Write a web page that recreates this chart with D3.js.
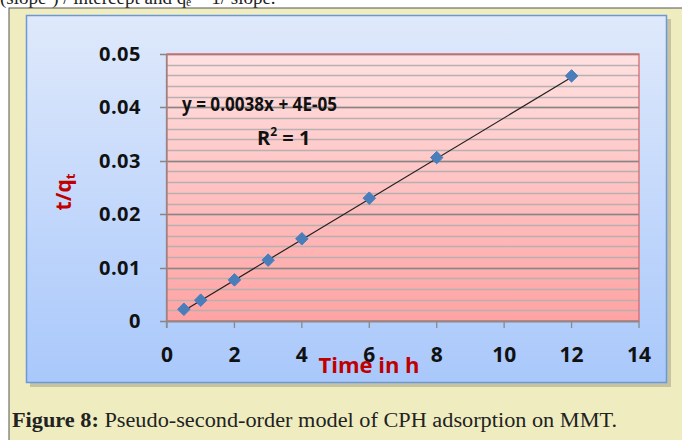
<!DOCTYPE html>
<meta charset="utf-8">
<style>
body { margin: 0; background: #fff; }
svg text { font-family: "Open Sans", "DejaVu Sans", sans-serif; }
</style>
<svg width="682" height="440"></svg>
<script src="https://d3js.org/d3.v7.min.js"></script>
<script>

// data
var hours = [0.5, 1, 2, 3, 4, 6, 8, 12];
var tq = [0.0022, 0.0039, 0.0077, 0.0114, 0.0154, 0.023, 0.0306, 0.0459];
var slope = 0.0038, intercept = 0.00004;
var xTicks = [0, 2, 4, 6, 8, 10, 12, 14];
var yTicks = [0, 0.01, 0.02, 0.03, 0.04, 0.05];
var yMinor = d3.range(0, 0.0501, 0.002);

var svg = d3.select("svg");
var defs = svg.append("defs");

var g1 = defs.append("linearGradient").attr("id", "chartbg").attr("x1", 0).attr("y1", 0).attr("x2", 0).attr("y2", 1);
g1.append("stop").attr("offset", "0%").attr("stop-color", "#dfe9fb");
g1.append("stop").attr("offset", "100%").attr("stop-color", "#a9c8fb");

var g2 = defs.append("linearGradient").attr("id", "plotbg").attr("x1", 0).attr("y1", 0).attr("x2", 0).attr("y2", 1);
g2.append("stop").attr("offset", "0%").attr("stop-color", "#ffe1e1");
g2.append("stop").attr("offset", "100%").attr("stop-color", "#ffa3a3");

// page text cut off at the top
svg.append("text")
    .attr("x", 0).attr("y", 4)
    .style("font-family", "'Liberation Serif', serif")
    .style("font-size", "19px")
    .attr("fill", "#222")
    .text("(slope²) / intercept and qₑ = 1/ slope.");

// beige figure panel
svg.append("rect")
    .attr("x", 9).attr("y", 8).attr("width", 700).attr("height", 440)
    .attr("fill", "#efedc0").attr("stroke", "#555").attr("stroke-width", 1);

// chart area with shadow
svg.append("rect")
    .attr("x", 30).attr("y", 19).attr("width", 641).attr("height", 368)
    .attr("fill", "#a9a78a").attr("opacity", 0.6);
svg.append("rect")
    .attr("x", 26.5).attr("y", 15.5).attr("width", 640).attr("height", 367)
    .attr("fill", "url(#chartbg)").attr("stroke", "#6b98d6").attr("stroke-width", 1.5);

var x = d3.scaleLinear().domain([0, 14]).range([167, 639]);
var y = d3.scaleLinear().domain([0, 0.05]).range([321, 54]);

svg.append("rect")
    .attr("x", x(0)).attr("y", y(0.05))
    .attr("width", x(14) - x(0)).attr("height", y(0) - y(0.05))
    .attr("fill", "url(#plotbg)");

// gridlines
svg.append("g").selectAll("line")
    .data(yMinor)
    .join("line")
    .attr("x1", x(0)).attr("x2", x(14))
    .attr("y1", d => Math.round(y(d)) + 0.5).attr("y2", d => Math.round(y(d)) + 0.5)
    .attr("stroke", "#b8b0b0").attr("stroke-width", 1.5);
svg.append("g").selectAll("line")
    .data(yTicks)
    .join("line")
    .attr("x1", x(0) - 7).attr("x2", x(14))
    .attr("y1", d => Math.round(y(d)) + 0.5).attr("y2", d => Math.round(y(d)) + 0.5)
    .attr("stroke", "#8a8585").attr("stroke-width", 1.3);

svg.append("rect")
    .attr("x", x(0)).attr("y", y(0.05))
    .attr("width", x(14) - x(0)).attr("height", y(0) - y(0.05))
    .attr("fill", "none").attr("stroke", "#d86a6a").attr("stroke-width", 1.3);

// axes
svg.append("line")
    .attr("x1", x(0) - 0.5).attr("x2", x(0) - 0.5).attr("y1", y(0.05)).attr("y2", y(0) + 7)
    .attr("stroke", "#8a8a8a").attr("stroke-width", 1.3);
svg.append("line")
    .attr("x1", x(0)).attr("x2", x(14)).attr("y1", y(0) + 0.5).attr("y2", y(0) + 0.5)
    .attr("stroke", "#8a8a8a").attr("stroke-width", 1.3);
svg.append("g").selectAll("line")
    .data(xTicks)
    .join("line")
    .attr("x1", d => x(d)).attr("x2", d => x(d))
    .attr("y1", y(0)).attr("y2", y(0) + 7)
    .attr("stroke", "#8a8a8a").attr("stroke-width", 1.3);

svg.append("g").selectAll("text")
    .data(yTicks)
    .join("text")
    .attr("x", 141).attr("y", d => y(d) + 7)
    .attr("text-anchor", "end")
    .style("font-size", "20px").style("font-weight", "bold")
    .style("letter-spacing", "0.5px")
    .attr("fill", "#111")
    .text(d => d === 0 ? "0" : d3.format(".2f")(d));

svg.append("g").selectAll("text")
    .data(xTicks)
    .join("text")
    .attr("x", d => x(d)).attr("y", 362)
    .attr("text-anchor", "middle")
    .style("font-size", "21px").style("font-weight", "bold")
    .attr("fill", "#111")
    .text(d => d);

// axis titles
var yt = svg.append("text")
    .attr("transform", "translate(71,192) rotate(-90)")
    .attr("text-anchor", "middle")
    .attr("fill", "#c00000")
    .style("font-size", "21px").style("font-weight", "bold");
yt.append("tspan").text("t/q");
yt.append("tspan").attr("dy", 4).style("font-size", "13px").text("t");

svg.append("text")
    .attr("x", 369).attr("y", 373)
    .attr("text-anchor", "middle")
    .attr("fill", "#c00000")
    .style("font-size", "22px").style("font-weight", "bold")
    .text("Time in h");

// trendline
svg.append("line")
    .attr("x1", x(hours[0])).attr("y1", y(slope * hours[0] + intercept))
    .attr("x2", x(hours[hours.length - 1])).attr("y2", y(slope * hours[hours.length - 1] + intercept))
    .attr("stroke", "#222").attr("stroke-width", 1.2);

// markers
svg.append("g").selectAll("path")
    .data(hours)
    .join("path")
    .attr("transform", (d, i) => "translate(" + x(d) + "," + y(tq[i]) + ")")
    .attr("d", d3.symbol().type(d3.symbolDiamond2).size(100))
    .attr("fill", "#4a7ebb").attr("stroke", "#4a7ebb").attr("stroke-width", 1)
    .attr("stroke-linejoin", "round");

// equation
svg.append("text")
    .attr("x", 182).attr("y", 111)
    .attr("textLength", 155).attr("lengthAdjust", "spacingAndGlyphs")
    .style("font-size", "20px").style("font-weight", "bold")
    .attr("fill", "#111")
    .text("y = 0.0038x + 4E-05");
var r2 = svg.append("text")
    .attr("x", 257).attr("y", 145)
    .style("font-size", "20px").style("font-weight", "bold")
    .attr("fill", "#111");
r2.append("tspan").text("R");
r2.append("tspan").attr("dy", -9).style("font-size", "12px").text("2");
r2.append("tspan").attr("dy", 9).text(" = 1");

// caption
var cap = svg.append("text")
    .attr("x", 12).attr("y", 427)
    .attr("textLength", 605).attr("lengthAdjust", "spacingAndGlyphs")
    .style("font-family", "'Liberation Serif', 'DejaVu Serif', serif")
    .style("font-size", "20px").attr("fill", "#222");
cap.append("tspan").style("font-weight", "bold").text("Figure 8:");
cap.append("tspan").text(" Pseudo-second-order model of CPH adsorption on MMT.");

</script>
